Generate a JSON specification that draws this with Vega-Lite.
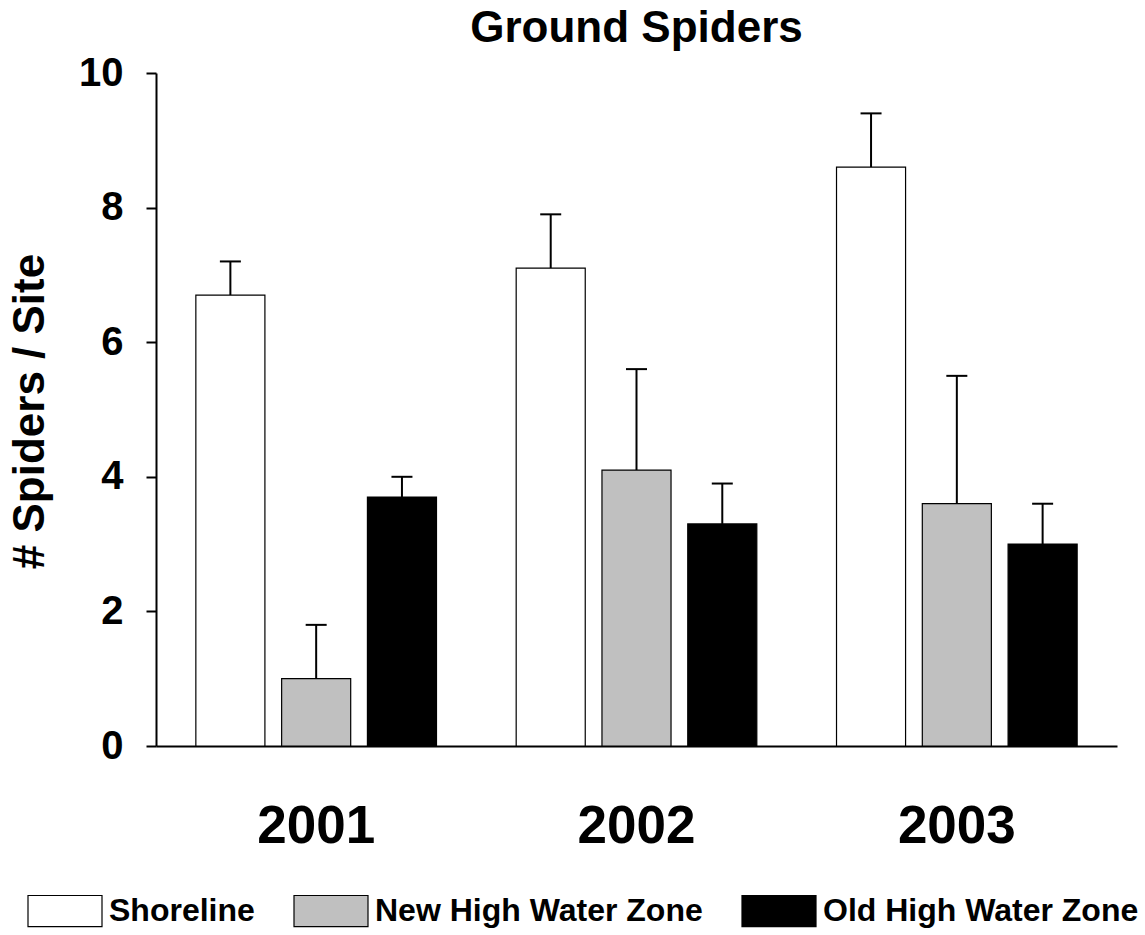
{
  "$schema": "https://vega.github.io/schema/vega-lite/v6.json",
  "width": 961,
  "height": 673,
  "autosize": {"type": "none"},
  "padding": {"left": 156, "top": 73, "right": 28, "bottom": 189},
  "background": "white",
  "title": {"text": "Ground Spiders", "font": "Liberation Sans", "fontSize": 44, "fontWeight": "bold", "color": "black", "anchor": "middle", "frame": "group", "baseline": "alphabetic", "offset": -33},
  "data": {"values": [
    {"year": "2001", "zone": "Shoreline", "mean": 6.7, "upper": 7.2},
    {"year": "2001", "zone": "New High Water Zone", "mean": 1.0, "upper": 1.8},
    {"year": "2001", "zone": "Old High Water Zone", "mean": 3.7, "upper": 4.0},
    {"year": "2002", "zone": "Shoreline", "mean": 7.1, "upper": 7.9},
    {"year": "2002", "zone": "New High Water Zone", "mean": 4.1, "upper": 5.6},
    {"year": "2002", "zone": "Old High Water Zone", "mean": 3.3, "upper": 3.9},
    {"year": "2003", "zone": "Shoreline", "mean": 8.6, "upper": 9.4},
    {"year": "2003", "zone": "New High Water Zone", "mean": 3.6, "upper": 5.5},
    {"year": "2003", "zone": "Old High Water Zone", "mean": 3.0, "upper": 3.6}
  ]},
  "encoding": {
    "x": {"field": "year", "type": "nominal", "title": null, "scale": {"paddingInner": 0, "paddingOuter": 0},
      "axis": {"labelAngle": 0, "labelFont": "Liberation Sans", "labelFontSize": 53, "labelFontWeight": "bold", "labelColor": "black", "ticks": false, "tickSize": 0, "labelPadding": 54, "labelBaseline": "top", "domainColor": "black", "domainWidth": 2}},
    "xOffset": {"field": "zone", "type": "nominal", "sort": ["Shoreline", "New High Water Zone", "Old High Water Zone"], "scale": {"paddingInner": 0.195, "paddingOuter": 0.4645}}
  },
  "layer": [
    {"mark": {"type": "rule", "strokeWidth": 2, "color": "black"},
     "encoding": {"y": {"field": "mean", "type": "quantitative", "title": "# Spiders / Site", "scale": {"domain": [0, 10]},
       "axis": {"values": [0, 2, 4, 6, 8, 10], "format": "d"}}, "y2": {"field": "upper"}}},
    {"mark": {"type": "tick", "thickness": 2, "size": 21, "color": "black", "opacity": 1},
     "encoding": {"y": {"field": "upper", "type": "quantitative", "title": "# Spiders / Site",
       "axis": {"values": [0, 2, 4, 6, 8, 10], "format": "d"}}}},
    {"mark": {"type": "bar", "stroke": "black", "strokeWidth": 1.2},
     "encoding": {
       "y": {"field": "mean", "type": "quantitative", "title": "# Spiders / Site",
         "axis": {"values": [0, 2, 4, 6, 8, 10], "format": "d"}},
       "fill": {"field": "zone", "type": "nominal", "sort": ["Shoreline", "New High Water Zone", "Old High Water Zone"],
         "scale": {"domain": ["Shoreline", "New High Water Zone", "Old High Water Zone"], "range": ["white", "#c0c0c0", "black"]},
         "legend": {"orient": "none", "legendX": -129, "legendY": 800, "direction": "horizontal", "columns": 3, "title": null,
           "symbolType": "M-1,-0.42H1V0.42H-1Z", "symbolSize": 5476, "symbolStrokeColor": "black", "symbolStrokeWidth": 1.2, "symbolOpacity": 1,
           "labelFont": "Liberation Sans", "labelFontSize": 32, "labelFontWeight": "bold", "labelColor": "black", "labelOffset": 6,
           "columnPadding": 36, "padding": 0, "labelLimit": 0}}
     }}
  ],
  "config": {
    "view": {"stroke": null},
    "axisY": {"grid": false, "domainColor": "black", "domainWidth": 2, "tickColor": "black", "tickWidth": 2, "tickSize": 10,
      "labelFont": "Liberation Sans", "labelFontSize": 40, "labelFontWeight": "bold", "labelColor": "black", "labelPadding": 23,
      "titleFont": "Liberation Sans", "titleFontSize": 44, "titleFontWeight": "bold", "titleColor": "black",
      "titleAngle": 270, "titleX": -113, "titleY": 338, "titleBaseline": "alphabetic", "titleAlign": "center"}
  }
}
